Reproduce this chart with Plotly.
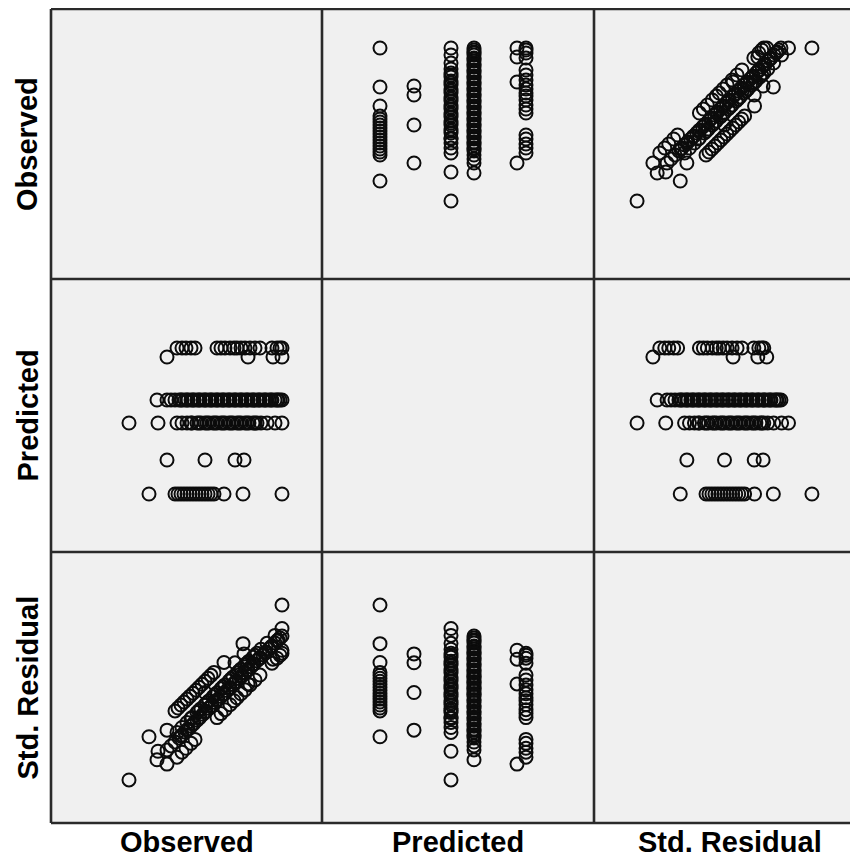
import plotly.graph_objects as go
from plotly.subplots import make_subplots

# ---------------- data (one entry per case) ----------------
observed = [
    9.8, 12.4, 12.7, 13.0, 13.3, 13.6, 13.9, 14.2, 14.5, 14.8, 15.1, 15.4, 15.7, 16.0, 16.3, 17.3, 19.2, 23.1,
    11.6, 15.4, 18.4, 19.3,
    7.8, 10.7, 12.6, 13.1, 13.6, 14.1, 14.6, 15.0, 15.4, 15.8, 16.2, 16.6, 17.0, 17.4, 17.8, 18.2, 18.6, 19.0,
    19.4, 19.8, 20.2, 20.6, 21.0, 21.6, 22.4, 23.1,
    10.6, 11.6, 12.0, 12.4, 12.8, 13.1, 13.4, 13.7, 14.0, 14.3, 14.6, 14.9, 15.2, 15.5, 15.8, 16.1, 16.4, 16.7,
    17.0, 17.3, 17.6, 17.9, 18.2, 18.5, 18.8, 19.1, 19.4, 19.7, 20.0, 20.3, 20.6, 20.9, 21.2, 21.5, 21.8, 22.1,
    22.4, 22.7, 22.9, 23.1,
    11.6, 19.7, 22.2, 23.1,
    12.6, 13.1, 13.5, 14.0, 14.4, 16.6, 17.0, 17.4, 17.9, 18.3, 18.6, 19.0, 19.4, 19.9, 20.4, 20.9, 22.1, 22.6,
    22.9, 23.1,
    13.0, 13.6, 14.2, 14.8, 15.4, 16.0, 16.6, 17.2, 17.8, 18.4, 19.0, 19.6, 20.2, 20.8, 21.4, 22.0, 22.6,
    14.0, 14.8, 15.6, 16.4, 17.2, 18.0, 18.8, 19.6, 20.4,
]

predicted = [
    5.8, 5.8, 5.8, 5.8, 5.8, 5.8, 5.8, 5.8, 5.8, 5.8, 5.8, 5.8, 5.8, 5.8, 5.8, 5.8, 5.8, 5.8,
    9.2, 9.2, 9.2, 9.2,
    12.9, 12.9, 12.9, 12.9, 12.9, 12.9, 12.9, 12.9, 12.9, 12.9, 12.9, 12.9, 12.9, 12.9, 12.9, 12.9, 12.9, 12.9,
    12.9, 12.9, 12.9, 12.9, 12.9, 12.9, 12.9, 12.9,
    15.2, 15.2, 15.2, 15.2, 15.2, 15.2, 15.2, 15.2, 15.2, 15.2, 15.2, 15.2, 15.2, 15.2, 15.2, 15.2, 15.2, 15.2,
    15.2, 15.2, 15.2, 15.2, 15.2, 15.2, 15.2, 15.2, 15.2, 15.2, 15.2, 15.2, 15.2, 15.2, 15.2, 15.2, 15.2, 15.2,
    15.2, 15.2, 15.2, 15.2,
    19.5, 19.5, 19.5, 19.5,
    20.4, 20.4, 20.4, 20.4, 20.4, 20.4, 20.4, 20.4, 20.4, 20.4, 20.4, 20.4, 20.4, 20.4, 20.4, 20.4, 20.4, 20.4,
    20.4, 20.4,
    15.2, 15.2, 15.2, 15.2, 15.2, 15.2, 15.2, 15.2, 15.2, 15.2, 15.2, 15.2, 15.2, 15.2, 15.2, 15.2, 15.2,
    12.9, 12.9, 12.9, 12.9, 12.9, 12.9, 12.9, 12.9, 12.9,
]

std_residual = [
    -1.231, -0.587, -0.513, -0.439, -0.364, -0.290, -0.216, -0.142, -0.067, 0.007, 0.081, 0.156, 0.230, 0.304,
    0.378, 0.626, 1.096, 2.061,
    -1.066, -0.125, 0.618, 0.840,
    -2.311, -1.594, -1.123, -1.000, -0.876, -0.752, -0.628, -0.529, -0.430, -0.331, -0.232, -0.133, -0.034,
    0.065, 0.164, 0.263, 0.362, 0.461, 0.560, 0.659, 0.758, 0.857, 0.956, 1.104, 1.302, 1.475,
    -1.808, -1.561, -1.462, -1.363, -1.264, -1.189, -1.115, -1.041, -0.967, -0.892, -0.818, -0.744, -0.670,
    -0.595, -0.521, -0.447, -0.373, -0.298, -0.224, -0.150, -0.076, -0.001, 0.073, 0.147, 0.222, 0.296, 0.370,
    0.444, 0.519, 0.593, 0.667, 0.741, 0.816, 0.890, 0.964, 1.038, 1.113, 1.187, 1.236, 1.286,
    -1.915, 0.089, 0.708, 0.931,
    -1.742, -1.618, -1.519, -1.396, -1.297, -0.752, -0.653, -0.554, -0.430, -0.331, -0.257, -0.158, -0.059,
    0.065, 0.189, 0.312, 0.609, 0.733, 0.807, 0.857,
    -1.214, -1.066, -0.917, -0.769, -0.620, -0.472, -0.323, -0.175, -0.026, 0.123, 0.271, 0.420, 0.568, 0.717,
    0.865, 1.014, 1.162,
    -0.777, -0.579, -0.381, -0.183, 0.015, 0.213, 0.411, 0.609, 0.807,
]

var_names = ["Observed", "Predicted", "Std. Residual"]
variables = [observed, predicted, std_residual]

# ---------------- layout geometry (figure pixels) ----------------
W, H = 850, 859
col_px = [(43, 314), (314, 586), (586, 850)]   # last column is cut by the page edge
row_px = [(1, 271), (271, 544), (544, 815)]

x_ranges = [[0, 27.1], [0, 27.2], [-3.3875, 3.2125]]
y_ranges = [[0, 27.0], [0, 27.3], [-3.3875, 3.3875]]

fig = make_subplots(rows=3, cols=3, horizontal_spacing=0, vertical_spacing=0)

for i in range(3):
    for j in range(3):
        if i == j:
            continue
        fig.add_trace(
            go.Scatter(
                x=variables[j], y=variables[i], mode="markers",
                marker=dict(symbol="circle-open", size=13, color="#0c0c0c",
                            line=dict(width=2.0)),
                hoverinfo="skip", showlegend=False, cliponaxis=True,
            ),
            row=i + 1, col=j + 1,
        )

axis_style = dict(showticklabels=False, showgrid=False, zeroline=False,
                  showline=False, ticks="", fixedrange=True)
for j in range(3):
    fig.update_xaxes(domain=[col_px[j][0] / W, col_px[j][1] / W],
                     range=x_ranges[j], **axis_style, col=j + 1)
for i in range(3):
    fig.update_yaxes(domain=[1 - row_px[i][1] / H, 1 - row_px[i][0] / H],
                     range=y_ranges[i], **axis_style, row=i + 1)

# background of the whole grid (diagonal cells too) and frame / grid lines
line_col = "#2a2a2a"
lw = 2.6
shapes = [dict(type="rect", xref="paper", yref="paper", layer="below",
               x0=col_px[0][0] / W, x1=1.0, y0=1 - row_px[2][1] / H, y1=1 - row_px[0][0] / H,
               fillcolor="#f0f0f0", line=dict(width=0))]
for xpx in [col_px[0][0], col_px[1][0], col_px[2][0]]:
    shapes.append(dict(type="line", xref="paper", yref="paper",
                       x0=xpx / W, x1=xpx / W, y0=1 - row_px[0][0] / H, y1=1 - row_px[2][1] / H,
                       line=dict(color=line_col, width=lw)))
for ypx in [row_px[0][0], row_px[1][0], row_px[2][0], row_px[2][1]]:
    shapes.append(dict(type="line", xref="paper", yref="paper",
                       x0=col_px[0][0] / W, x1=1.01, y0=1 - ypx / H, y1=1 - ypx / H,
                       line=dict(color=line_col, width=lw)))

annotations = []
label_font = dict(family="Liberation Sans, Arial, sans-serif", size=29, color="#000000")
for j, name in enumerate(var_names):
    cx = col_px[j][0] + 136
    annotations.append(dict(text="<b>%s</b>" % name, xref="paper", yref="paper",
                            x=cx / W, y=1 - 834 / H, showarrow=False,
                            xanchor="center", yanchor="middle", font=label_font))
for i, name in enumerate(var_names):
    cy = (row_px[i][0] + row_px[i][1]) / 2
    annotations.append(dict(text="<b>%s</b>" % name, xref="paper", yref="paper",
                            x=19 / W, y=1 - cy / H, showarrow=False, textangle=-90,
                            xanchor="center", yanchor="middle", font=label_font))

fig.update_layout(
    width=W, height=H,
    margin=dict(l=0, r=0, t=0, b=0),
    paper_bgcolor="#ffffff",
    plot_bgcolor="#f0f0f0",
    shapes=shapes,
    annotations=annotations,
    showlegend=False,
)

fig.write_html("out.html", config={"displayModeBar": False})
